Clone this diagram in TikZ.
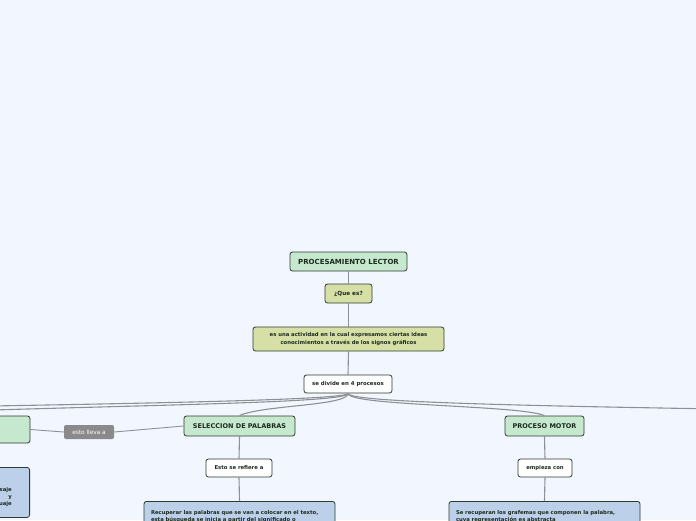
\documentclass[tikz,border=0pt]{standalone}
\usepackage{fontspec}
\setmainfont{DejaVu Sans}
\definecolor{bg}{HTML}{F2F6FE}
\definecolor{gfill}{HTML}{C6E8CE}
\definecolor{ofill}{HTML}{D5DFA6}
\definecolor{bfill}{HTML}{BCD0EA}
\definecolor{bord}{HTML}{2F3B31}
\definecolor{conn}{HTML}{8E9096}
\definecolor{lbl}{HTML}{8A8A8A}
\definecolor{txt}{HTML}{1C2A1E}
\tikzset{
  box/.style={draw=bord, line width=0.8pt, rounded corners=2.5pt, inner sep=0pt, text=txt, font=\bfseries, align=center},
  gbox/.style={box, fill=gfill},
  obox/.style={box, fill=ofill},
  wbox/.style={box, fill=white},
  bbox/.style={box, fill=bfill},
  tag/.style={fill=lbl, rounded corners=2pt, text=white, inner sep=0pt, font=\fontsize{5.8}{6}\selectfont},
  link/.style={draw=conn, line width=1.1pt}
}
\begin{document}
\begin{tikzpicture}[x=1pt,y=-1pt]
\useasboundingbox (0,0) rectangle (696,520);
\fill[bg] (0,0) rectangle (696,520);
\clip (0,0) rectangle (696,520);

% nodes
\node[gbox, minimum width=117pt, minimum height=19pt, font=\bfseries\fontsize{7}{7}\selectfont] (pl) at (348.5,261.5) {PROCESAMIENTO LECTOR};
\node[obox, minimum width=47pt, minimum height=19pt, font=\bfseries\fontsize{5.7}{6}\selectfont] (qe) at (348.5,293.5) {¿Que es?};
\node[obox, minimum width=191pt, minimum height=24pt, font=\bfseries\fontsize{5.3}{7.4}\selectfont] (ea) at (348.5,339) {es una actividad en la cual expresamos ciertas ideas\\conocimientos a través de los signos gráficos};
\node[wbox, minimum width=88pt, minimum height=18pt, font=\bfseries\fontsize{5.4}{6}\selectfont] (sd) at (348,384) {se divide en 4 procesos};

\node[gbox, minimum width=120pt, minimum height=27pt] (lb) at (-30,429.5) {};
\node[tag, minimum width=50pt, minimum height=14pt] (ll) at (89,432) {esto lleva a};
\node[gbox, minimum width=111pt, minimum height=20pt, font=\bfseries\fontsize{6.5}{7}\selectfont] (sel) at (239.5,426) {SELECCION DE PALABRAS};
\node[gbox, minimum width=79pt, minimum height=20pt, font=\bfseries\fontsize{6.5}{7}\selectfont] (pm) at (544.5,426) {PROCESO MOTOR};

\node[wbox, minimum width=66pt, minimum height=18pt, font=\bfseries\fontsize{5.3}{6}\selectfont] (esr) at (239,468) {Esto se refiere a};
\node[wbox, minimum width=54pt, minimum height=18pt, font=\bfseries\fontsize{5.3}{6}\selectfont] (ec) at (545,468) {empieza con};

\node[bbox, anchor=north, minimum width=191pt, minimum height=30pt, text width=177pt, align=left, inner ysep=6pt, font=\bfseries\fontsize{5.3}{7.2}\selectfont] (rp) at (239.5,501) {Recuperar las palabras que se van a colocar en el texto,\\esta búsqueda se inicia a partir del significado o};
\node[bbox, anchor=north, minimum width=191pt, minimum height=30pt, text width=177pt, align=left, inner ysep=6pt, font=\bfseries\fontsize{5.3}{7.2}\selectfont] (sr) at (544.5,501) {Se recuperan los grafemas que componen la palabra,\\cuya representación es abstracta};

\node[bbox, anchor=north east, minimum width=120pt, minimum height=50pt] (lbb) at (30,467) {};
\node[anchor=north east, align=right, inner sep=0pt, text=txt, font=\bfseries\fontsize{5.3}{7}\selectfont] (lbt) at (12,487) {del mensaje\\y\\lenguaje};

% off-canvas ends
\coordinate (L1) at (-120,414);
\coordinate (L2) at (-420,414);
\coordinate (R1) at (900,412);

% connectors
\draw[link] (pl.south) -- (qe.north);
\draw[link] (qe.south) -- (ea.north);
\draw[link] (ea.south) -- (sd.north);
\draw[link] (sd.south) .. controls (348,406) and (262,405) .. (sel.north);
\draw[link] (sd.south) .. controls (348,406) and (520,405) .. (pm.north);
\draw[link] (sd.south) .. controls (348,404) and (100,405) .. (L1);
\draw[link] (sd.south) .. controls (348,403) and (-100,406) .. (L2);
\draw[link] (sd.south) .. controls (348,404) and (600,407) .. (R1);
\draw[link, line width=0.9pt] (lb.east) -- (ll.west);
\draw[link, line width=0.9pt] (ll.east) -- (sel.west);
\draw[link] (sel.south) -- (esr.north);
\draw[link] (esr.south) -- (rp.north);
\draw[link] (pm.south) -- (ec.north);
\draw[link] (ec.south) -- (sr.north);
\end{tikzpicture}
\end{document}
